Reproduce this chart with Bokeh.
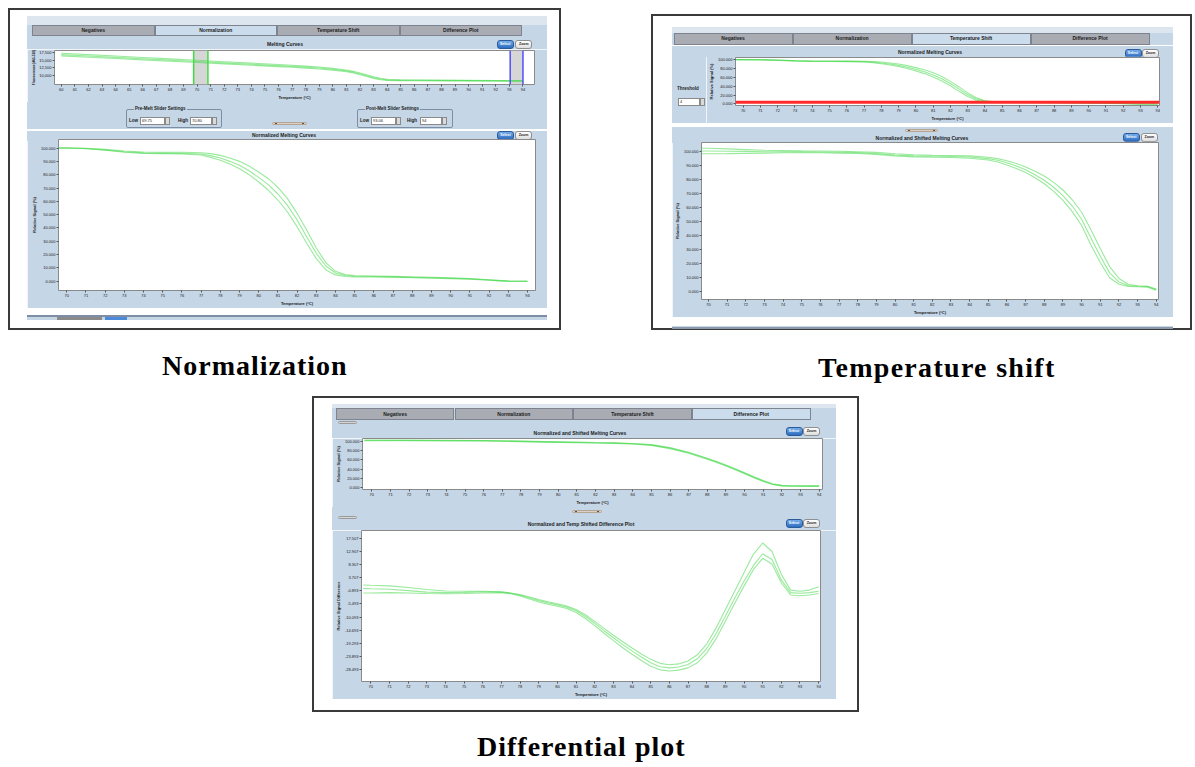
from bokeh.models import (Column, Row, Div, Range1d, FixedTicker, PrintfTickFormatter,
                          NumeralTickFormatter, BoxAnnotation, Span)
from bokeh.plotting import figure
from bokeh.embed import file_html
from bokeh.resources import INLINE

# ---------------- data ----------------
tab_names = ["Negatives", "Normalization", "Temperature Shift", "Difference Plot"]
captions = ["Normalization", "Temperature shift", "Differential plot"]

# raw melting curves (Normalization panel, top chart)
raw_temp = [60, 62, 64, 66, 68, 70, 72, 74, 76, 77, 78, 79, 80, 80.5, 81, 81.5, 82, 82.5, 83, 83.5, 84, 85, 86, 88, 90, 92, 94]
raw_a = [17250, 16790, 16330, 15870, 15410, 14950, 14490, 14030, 13570, 13310, 13040, 12720, 12300, 12030, 11720, 11320, 10780, 10170, 9560, 9030, 8680, 8520, 8480, 8420, 8360, 8300, 8240]
raw_b = [16800, 16350, 15900, 15450, 15000, 14550, 14100, 13650, 13200, 12950, 12700, 12400, 12000, 11750, 11450, 11050, 10500, 9900, 9300, 8800, 8500, 8400, 8380, 8330, 8280, 8230, 8180]
raw_c = [16400, 15960, 15520, 15080, 14640, 14200, 13760, 13320, 12880, 12640, 12390, 12100, 11720, 11480, 11180, 10770, 10200, 9600, 9020, 8560, 8330, 8260, 8240, 8200, 8160, 8120, 8080]

# normalized melting curves
norm_temp = [69.6, 70, 71, 72, 73, 74, 75, 76, 77, 77.5, 78, 78.5, 79, 79.5, 80, 80.5, 81, 81.5, 82, 82.5, 83, 83.5, 84, 84.5, 85, 86, 87, 88, 89, 90, 91, 92, 92.5, 93, 94]
norm_a = [100, 100, 99.8, 99.0, 97.8, 97.0, 96.8, 96.8, 96.5, 95.8, 94.5, 92.5, 90.0, 86.5, 82.0, 77.0, 70.5, 62.0, 51.0, 38.5, 25.0, 14.0, 7.5, 5.0, 4.3, 4.0, 3.7, 3.3, 3.0, 2.6, 2.1, 1.2, 0.7, 0.2, 0.0]
norm_b = [100, 100, 99.6, 98.6, 97.2, 96.4, 96.2, 96.0, 95.5, 94.3, 92.5, 90.0, 87.0, 83.0, 78.0, 72.5, 65.5, 57.0, 46.0, 33.5, 21.0, 11.5, 6.2, 4.3, 3.8, 3.6, 3.3, 3.0, 2.7, 2.3, 1.8, 1.0, 0.5, 0.1, 0.0]
norm_c = [100, 100, 99.5, 98.3, 96.8, 96.0, 95.8, 95.5, 94.8, 93.0, 90.8, 88.0, 84.5, 80.0, 74.5, 68.5, 61.0, 52.0, 41.0, 28.5, 17.0, 8.5, 4.8, 3.6, 3.3, 3.2, 3.0, 2.7, 2.4, 2.0, 1.5, 0.8, 0.3, 0.0, 0.0]

# normalized and shifted melting curves
shift_temp = [69.6, 70, 71, 72, 73, 74, 75, 76, 77, 78, 79, 80, 81, 82, 83, 84, 85, 85.5, 86, 86.5, 87, 87.5, 88, 88.5, 89, 89.5, 90, 90.5, 91, 91.5, 92, 92.5, 93, 93.5, 94]
shift_a = [102.5, 102.5, 102.0, 101.5, 101.0, 100.8, 100.6, 100.5, 100.3, 100.0, 99.5, 98.5, 97.8, 97.5, 97.3, 97.0, 96.0, 95.0, 93.5, 91.5, 89.0, 86.0, 82.5, 78.0, 72.5, 65.5, 56.5, 44.0, 30.5, 17.5, 9.0, 4.8, 3.8, 3.6, 1.5]
shift_b = [100.5, 100.5, 100.3, 100.2, 100.0, 100.0, 99.9, 99.8, 99.6, 99.3, 98.6, 97.6, 97.0, 96.8, 96.6, 96.2, 95.0, 93.8, 92.0, 89.7, 87.0, 83.5, 79.5, 74.5, 68.5, 61.0, 51.5, 38.0, 25.0, 13.0, 6.5, 4.0, 3.4, 3.2, 1.0]
shift_c = [98.5, 98.5, 98.6, 98.8, 99.0, 99.2, 99.2, 99.2, 99.0, 98.7, 98.0, 97.0, 96.3, 96.0, 95.8, 95.3, 94.0, 92.6, 90.5, 88.0, 85.0, 81.3, 77.0, 71.5, 65.0, 57.0, 47.0, 33.0, 20.5, 9.5, 4.8, 3.3, 3.0, 2.8, 0.5]

# differential panel, top chart
dtop_temp = [69.6, 70, 72, 74, 76, 78, 80, 81, 82, 83, 84, 85, 86, 87, 87.5, 88, 88.5, 89, 89.5, 90, 90.5, 91, 91.5, 92, 92.5, 93, 94]
dtop_a = [102.5, 102.5, 102.3, 102.0, 101.5, 100.0, 98.5, 97.8, 97.0, 96.3, 95.0, 92.5, 86.0, 76.0, 69.5, 63.0, 56.0, 48.5, 40.5, 32.0, 23.0, 15.0, 8.0, 4.5, 3.8, 3.6, 3.5]
dtop_b = [101.5, 101.5, 101.5, 101.3, 101.0, 99.6, 98.0, 97.2, 96.5, 95.7, 94.3, 91.5, 84.5, 74.5, 68.0, 61.5, 54.5, 47.0, 39.0, 30.5, 21.5, 13.5, 7.0, 4.0, 3.3, 3.2, 3.1]

# difference curves
diff_temp = [69.6, 70, 71, 72, 73, 74, 75, 76, 77, 77.5, 78, 78.5, 79, 79.5, 80, 80.5, 81, 81.5, 82, 82.5, 83, 83.5, 84, 84.5, 85, 85.5, 86, 86.5, 87, 87.5, 88, 88.5, 89, 89.5, 90, 90.5, 91, 91.5, 92, 92.5, 93, 93.5, 94]
diff_a = [1.2, 1.1, 0.9, 0.3, -0.4, -0.9, -1.0, -1.0, -1.2, -1.6, -2.2, -3.0, -3.9, -4.7, -5.4, -6.2, -7.4, -9.3, -11.6, -14.1, -16.5, -18.8, -21.0, -23.1, -25.0, -26.4, -26.9, -26.6, -25.6, -23.4, -19.6, -14.0, -7.5, -1.0, 5.5, 12.0, 16.0, 13.0, 5.0, -0.6, -1.0, -0.6, 0.6]
diff_b = [0.0, -0.1, -0.3, -0.8, -1.3, -1.5, -1.4, -1.2, -1.3, -1.7, -2.4, -3.3, -4.3, -5.1, -5.8, -6.6, -7.9, -9.9, -12.3, -14.9, -17.4, -19.8, -22.0, -24.2, -26.2, -27.6, -28.0, -27.7, -26.8, -24.8, -21.2, -16.0, -9.8, -3.5, 2.5, 8.0, 12.2, 10.2, 3.0, -1.5, -1.7, -1.5, -1.0]
diff_c = [-1.6, -1.6, -1.5, -1.6, -1.8, -1.9, -1.8, -1.6, -1.5, -1.9, -2.7, -3.7, -4.8, -5.6, -6.3, -7.1, -8.5, -10.6, -13.1, -15.8, -18.4, -20.9, -23.2, -25.4, -27.4, -28.7, -29.1, -28.8, -28.0, -26.2, -22.8, -17.8, -11.6, -5.3, 0.8, 6.6, 10.6, 8.6, 2.0, -2.3, -2.6, -2.3, -1.8]

temp_ticks_raw = list(range(60, 95))
temp_ticks = list(range(70, 95))
raw_ticks = [10000, 12500, 15000, 17500]
pct_ticks_10 = [0, 10, 20, 30, 40, 50, 60, 70, 80, 90, 100]
pct_ticks_20 = [0, 20, 40, 60, 80, 100]
diff_ticks = [17.507, 12.907, 8.307, 3.707, -0.893, -5.493, -10.093, -14.693, -19.293, -23.893, -28.493]

pre_melt = [69.75, 70.80]
post_melt = [93.06, 94.0]
threshold = 4

# ---------------- styling helpers ----------------
PANEL = "#c5d6e7"
UI = "Liberation Sans"
GREEN = "#45d84a"


def box(l, t, w, h, css=""):
    return f'<div style="position:absolute;left:{l}px;top:{t}px;width:{w}px;height:{h}px;{css}"></div>'


def txt(l, t, w, h, s, css=""):
    ws = f"width:{w}px;" if w is not None else ""
    return (f'<div style="position:absolute;left:{l}px;top:{t}px;{ws}height:{h}px;line-height:{h}px;'
            f'white-space:nowrap;font-family:{UI};{css}">{s}</div>')


def panel_div(w, h, inner, margin, bg=PANEL):
    html = (f'<div style="position:relative;width:{w}px;height:{h}px;background:{bg};'
            f'overflow:hidden;font-family:{UI};">{inner}</div>')
    return Div(text=html, width=w, height=h, margin=margin)


def tabs_div(w, h, band_h, x0, tw, th, sel, margin):
    inner = box(0, 0, w, band_h, "background:#dde5ee;")
    for i, n in enumerate(tab_names):
        bg = "#cbdcec" if i == sel else "#a9acb3"
        inner += txt(x0 + i * tw, band_h, tw, th, n,
                     f"box-sizing:border-box;background:{bg};border:1px solid #7d848f;text-align:center;"
                     f"font-size:5px;font-weight:bold;color:#1b1b1b;line-height:{th - 2}px;")
    return panel_div(w, h, inner, margin)


def buttons(sx, zx, y):
    s = txt(sx, y, 17, 9, "Select",
            "box-sizing:border-box;border:1px solid #2a5a98;border-radius:3px;"
            "background:linear-gradient(#74acea,#2d6cc0);color:#ffffff;font-size:3.5px;font-weight:bold;"
            "text-align:center;line-height:7px;")
    s += txt(zx, y, 17, 9, "Zoom",
             "box-sizing:border-box;border:1px solid #8f8f8f;border-radius:3px;"
             "background:linear-gradient(#ffffff,#dedede);color:#222222;font-size:3.5px;font-weight:bold;"
             "text-align:center;line-height:7px;")
    return s


def title_html(title, cx, ty):
    return txt(cx - 150, ty, 300, 6, title, "text-align:center;font-size:5px;font-weight:bold;color:#1b1b1b;")


def handle(l, t, w):
    return (box(l, t, w, 3, "box-sizing:border-box;background:#d9d0c8;border:1px solid #b3a494;border-radius:2px;")
            + box(l + 3, t + 1, 2, 1, "background:#6b4a30;")
            + box(l + w - 5, t + 1, 2, 1, "background:#6b4a30;"))


def grip(l, t):
    return box(l, t, 19, 3, "box-sizing:border-box;background:#d6d6d6;border:1px solid #9a9a9a;border-radius:2px;")


def group(l, t, w, h, legend, low, high, o):
    s = box(l, t, w, h, "box-sizing:border-box;border:1px solid #7d8ea4;border-radius:2px;")
    s += txt(l + 8, t - 3, None, 6, legend,
             f"background:{PANEL};padding:0 1px;font-size:4.5px;font-weight:bold;color:#1b1b1b;")
    for lbl, lx, ix, iw, val in (("Low", o[0], o[1], o[2], low), ("High", o[3], o[4], o[5], high)):
        s += txt(l + lx, t + 8, None, 8, lbl, "font-size:4.5px;font-weight:bold;color:#1b1b1b;")
        s += txt(l + ix, t + 8, iw, 8, val,
                 "box-sizing:border-box;background:#ffffff;border:1px solid #8a8a8a;font-size:4px;"
                 "color:#222222;padding-left:1px;line-height:6px;")
        s += box(l + ix + iw, t + 8, 5, 8, "box-sizing:border-box;background:#dadada;border:1px solid #8a8a8a;")
    return s


def mkfig(w, h, xr, yr, borders, xticks, yticks, yfmt, ylabel, ylabel_size="4px"):
    l, r, t, b = borders
    p = figure(width=w, height=h, x_range=Range1d(*xr), y_range=Range1d(*yr),
               output_backend="svg", toolbar_location=None,
               min_border_left=l, min_border_right=r, min_border_top=t, min_border_bottom=b,
               background_fill_color="white", border_fill_color=PANEL,
               outline_line_color="#8a8a8a", outline_line_width=1, margin=0)
    p.xgrid.visible = False
    p.ygrid.visible = False
    for ax in (p.xaxis[0], p.yaxis[0]):
        ax.axis_line_color = None
        ax.major_tick_line_color = "#555555"
        ax.major_tick_out = 2
        ax.major_tick_in = 0
        ax.minor_tick_line_color = None
        ax.major_label_text_font = UI
        ax.major_label_text_font_size = "4px"
        ax.major_label_text_color = "#222222"
        ax.major_label_standoff = 1
        ax.axis_label_text_font = UI
        ax.axis_label_text_font_size = "4px"
        ax.axis_label_text_font_style = "bold"
        ax.axis_label_text_color = "#222222"
        ax.axis_label_standoff = 1
    p.yaxis.axis_label_text_font_size = ylabel_size
    p.xaxis.ticker = FixedTicker(ticks=xticks)
    p.yaxis.ticker = FixedTicker(ticks=yticks)
    p.yaxis.formatter = yfmt
    p.xaxis.axis_label = "Temperature (°C)"
    p.yaxis.axis_label = ylabel
    return p


def curves(p, x, ys, width=1.1, alpha=0.55):
    for y in ys:
        p.line(x, y, line_color=GREEN, line_alpha=alpha, line_width=width)


pct_fmt = PrintfTickFormatter(format="%.3f")
BOX_STYLE = {"outline": "2px solid #3a3a3a", "outline-offset": "-2px", "background-color": "#ffffff"}

# ---------------- Box 1 : Normalization ----------------
f1a = mkfig(520, 53, (59.5, 94.85), (7000, 18160), (27, 13, 1, 13), temp_ticks_raw, raw_ticks,
            NumeralTickFormatter(format="0,0"), "Fluorescence (465-510)", ylabel_size="3.2px")
f1a.add_layout(BoxAnnotation(left=pre_melt[0], right=pre_melt[1], fill_color="#d6d6d6", fill_alpha=1,
                             line_color=None, level="underlay"))
f1a.add_layout(BoxAnnotation(left=post_melt[0], right=post_melt[1], fill_color="#d6d6d6", fill_alpha=1,
                             line_color=None, level="underlay"))
curves(f1a, raw_temp, [raw_a, raw_b, raw_c])
for v in pre_melt:
    f1a.add_layout(Span(location=v, dimension="height", line_color="#3ee03e", line_width=1.5))
for v in post_melt:
    f1a.add_layout(Span(location=v, dimension="height", line_color="#5050ff", line_width=1.5))

f1b = mkfig(520, 169, (69.57, 94.42), (-6.9, 106.4), (31, 12, 0, 16), temp_ticks, pct_ticks_10,
            pct_fmt, "Relative Signal (%)")
curves(f1b, norm_temp, [norm_a, norm_b, norm_c])

settings_inner = (group(99, 7, 96, 19, "Pre-Melt Slider Settings", f"{pre_melt[0]:.2f}", f"{pre_melt[1]:.2f}",
                        (3, 14, 25, 52, 64, 22))
                  + group(330, 7, 96, 19, "Post-Melt Slider Settings", f"{post_melt[0]:.2f}", f"{post_melt[1]:g}",
                          (3, 14, 25, 50, 63, 22))
                  + handle(245, 20, 35))
strip1_inner = (box(0, 0, 520, 1.5, "background:#7d8da3;") + box(30, 2, 45, 3, "background:#8a8a8a;")
                + box(78, 2, 22, 3, "background:#4a8ad8;"))

box1 = Column(children=[
    tabs_div(520, 21, 9, 5, 122.5, 11, 1, (8, 0, 0, 19)),
    panel_div(520, 12, title_html("Melting Curves", 258, 3.7) + buttons(469.7, 488.3, 2.7), (0, 0, 0, 19)),
    Row(children=[f1a], margin=(0, 0, 0, 19)),
    panel_div(520, 27, settings_inner, (0, 0, 0, 19)),
    panel_div(520, 10, title_html("Normalized Melting Curves", 257, 0.7) + buttons(470, 488, 0), (0, 0, 0, 19)),
    Row(children=[f1b], margin=(0, 0, 0, 19)),
    panel_div(520, 5, strip1_inner, (0, 0, 0, 19)),
], width=553, height=322, styles=BOX_STYLE, margin=0)

# ---------------- Box 2 : Temperature shift ----------------
f2a = mkfig(467, 67, (69.56, 94.1), (-3.4, 104.8), (26, 14, 1, 15), temp_ticks, pct_ticks_20,
            pct_fmt, "Relative Signal (%)")
curves(f2a, norm_temp, [norm_a, norm_b, norm_c])
f2a.add_layout(Span(location=threshold, dimension="width", line_color="#ff2a2a", line_width=3))

thr_inner = (txt(5, 30, None, 6, "Threshold", "font-size:4.5px;font-weight:bold;color:#1b1b1b;")
             + txt(6, 42, 22, 8, str(threshold),
                   "box-sizing:border-box;background:#ffffff;border:1px solid #8a8a8a;font-size:4px;"
                   "color:#222222;padding-left:1px;line-height:6px;")
             + box(28, 42, 5, 8, "box-sizing:border-box;background:#dadada;border:1px solid #8a8a8a;"))

f2b = mkfig(501, 176, (69.63, 94.12), (-6.1, 106.6), (28, 15, 1, 16), temp_ticks, pct_ticks_10,
            pct_fmt, "Relative Signal (%)")
curves(f2b, shift_temp, [shift_a, shift_b, shift_c])

box2 = Column(children=[
    tabs_div(501, 18, 6, 1.6, 119, 11.6, 2, (13, 0, 0, 21)),
    panel_div(501, 11, title_html("Normalized Melting Curves", 258, 3) + buttons(452.5, 470, 2.7), (0, 0, 0, 21)),
    Row(children=[panel_div(34, 67, thr_inner, 0), f2a], margin=(0, 0, 0, 21)),
    panel_div(501, 8, handle(233, 2, 33), (0, 0, 0, 21)),
    panel_div(501, 10, title_html("Normalized and Shifted Melting Curves", 250, 1.6) + buttons(450.7, 468.8, 0),
              (0, 0, 0, 21)),
    Row(children=[f2b], margin=(0, 0, 0, 21)),
    panel_div(501, 3, box(0, 1, 501, 2, "background:#8c99aa;"), (0, 0, 0, 21)),
], width=541, height=316, styles=BOX_STYLE, margin=(6, 0, 0, 90))

# ---------------- Box 3 : Differential plot ----------------
f3a = mkfig(504, 69, (69.5, 94.18), (-4, 106), (30, 14, 0, 14), temp_ticks, pct_ticks_20,
            pct_fmt, "Relative Signal (%)")
curves(f3a, dtop_temp, [dtop_a, dtop_b], width=1.4, alpha=0.6)

f3b = mkfig(504, 169, (69.5, 94.1), (-32.8, 20.4), (29, 16, 0, 13), temp_ticks, diff_ticks,
            pct_fmt, "Relative Signal Difference")
curves(f3b, diff_temp, [diff_a, diff_b, diff_c])

box3 = Column(children=[
    tabs_div(504, 16, 4, 3.8, 118.7, 12, 3, (8, 0, 0, 20)),
    panel_div(504, 18, grip(6, 1) + title_html("Normalized and Shifted Melting Curves", 248, 10)
              + buttons(453.5, 471, 7), (0, 0, 0, 20)),
    Row(children=[f3a], margin=(0, 0, 0, 20)),
    panel_div(504, 23, handle(240, 3, 30) + grip(6, 9)
              + title_html("Normalized and Temp Shifted Difference Plot", 249, 14) + buttons(453.5, 471, 12),
              (0, 0, 0, 20)),
    Row(children=[f3b], margin=(0, 0, 0, 20)),
], width=547, height=316, styles=BOX_STYLE, margin=(0, 0, 0, 304))

# ---------------- captions ----------------
CAP = ("font-family:Liberation Serif;font-weight:bold;font-size:28px;line-height:28px;"
       "letter-spacing:1px;color:#000000;")
cap1 = Div(text='<div style="position:relative;width:1184px;height:66px;">'
                + txt(154, 22, None, 28, captions[0], CAP)
                + txt(810, 24, None, 28, captions[1], CAP + "letter-spacing:1.3px;") + '</div>',
           width=1184, height=66, margin=0)
cap2 = Div(text='<div style="position:relative;width:1184px;height:44px;">'
                + txt(469, 21, None, 28, captions[2], CAP) + '</div>',
           width=1184, height=44, margin=0)

root = Column(children=[Row(children=[box1, box2], margin=0), cap1, box3, cap2], margin=(8, 0, 0, 8))

open("out.html", "w").write(file_html(root, INLINE, title="Melting curve analysis"))
